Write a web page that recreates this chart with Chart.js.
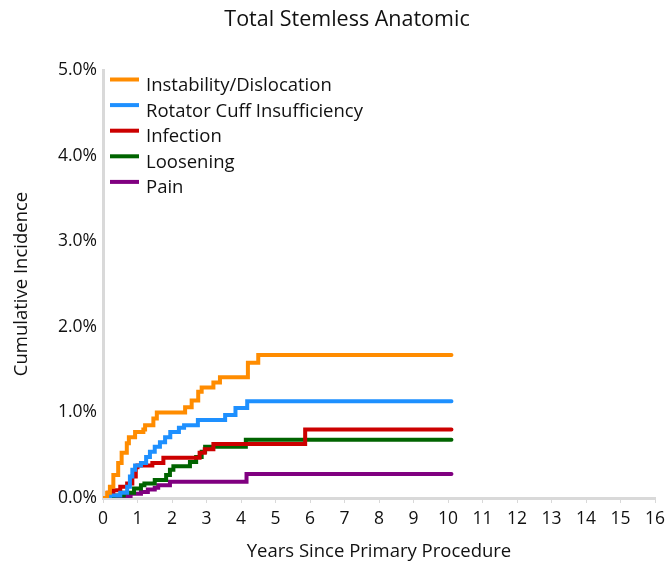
<!DOCTYPE html>
<html>
<head>
<meta charset="utf-8">
<script src="https://cdn.jsdelivr.net/npm/chart.js@4.4.1/dist/chart.umd.min.js"></script>
<style>
  html, body { margin: 0; padding: 0; background: #fff; }
  #wrap { width: 665px; height: 564px; }
</style>
</head>
<body>
<div id="wrap"><canvas id="cif"></canvas></div>
<script>
var seriesNames = ["Instability/Dislocation", "Rotator Cuff Insufficiency", "Infection", "Loosening", "Pain"];
var seriesColors = ["#ff8c00", "#1e90ff", "#cc0000", "#006400", "#800080"];
var xTicks = [0, 1, 2, 3, 4, 5, 6, 7, 8, 9, 10, 11, 12, 13, 14, 15, 16];
var yTicks = [0, 1, 2, 3, 4, 5];

// years / cumulative incidence (%) at each step
var instabYears = [0, 0.12, 0.2, 0.3, 0.44, 0.54, 0.69, 0.75, 0.93, 1.17, 1.22, 1.46, 1.56, 2.38, 2.57, 2.76, 2.86, 3.2, 3.39, 4.2, 4.5, 10.1];
var instabVals  = [0, 0.06, 0.13, 0.27, 0.41, 0.53, 0.64, 0.71, 0.77, 0.80, 0.85, 0.93, 1.0, 1.06, 1.14, 1.24, 1.29, 1.35, 1.41, 1.58, 1.67, 1.67];

var cuffYears = [0, 0.2, 0.5, 0.7, 0.78, 0.85, 0.93, 1.1, 1.25, 1.36, 1.5, 1.65, 1.8, 1.95, 2.2, 2.35, 2.75, 3.54, 3.84, 4.18, 10.1];
var cuffVals  = [0, 0.03, 0.06, 0.13, 0.25, 0.33, 0.38, 0.41, 0.48, 0.54, 0.60, 0.65, 0.71, 0.77, 0.82, 0.85, 0.91, 0.97, 1.05, 1.13, 1.13];

var infYears = [0, 0.15, 0.3, 0.5, 0.7, 0.85, 0.95, 1.0, 1.43, 1.75, 2.8, 2.95, 3.2, 5.86, 10.1];
var infVals  = [0, 0.06, 0.09, 0.13, 0.17, 0.25, 0.36, 0.38, 0.41, 0.47, 0.53, 0.57, 0.63, 0.80, 0.80];

var looseYears = [0, 0.3, 0.6, 0.9, 1.1, 1.2, 1.5, 1.83, 1.94, 2.04, 2.52, 2.7, 2.86, 2.96, 4.14, 10.1];
var looseVals  = [0, 0.03, 0.06, 0.11, 0.15, 0.17, 0.21, 0.27, 0.33, 0.37, 0.42, 0.48, 0.54, 0.60, 0.68, 0.68];

var painYears = [0, 0.35, 0.8, 1.1, 1.3, 1.5, 1.6, 1.94, 4.16, 10.1];
var painVals  = [0, 0.02, 0.05, 0.07, 0.10, 0.12, 0.15, 0.19, 0.28, 0.28];

var allYears = [instabYears, cuffYears, infYears, looseYears, painYears];
var allVals = [instabVals, cuffVals, infVals, looseVals, painVals];

function pts(xs, ys) {
  return xs.map(function (x, i) { return { x: x, y: ys[i] }; });
}

var datasets = seriesNames.map(function (name, i) {
  return {
    label: name,
    data: pts(allYears[i], allVals[i]),
    borderColor: seriesColors[i],
    backgroundColor: seriesColors[i],
    borderWidth: 4,
    borderCapStyle: 'round',
    stepped: true,
    pointRadius: 0,
    fill: false
  };
});

var fontFam = "'Open Sans', sans-serif";

// title sits a bit right of the canvas centre in the original
var titlePlugin = {
  id: 'titleText',
  afterDraw: function (chart) {
    var ctx = chart.ctx;
    ctx.save();
    ctx.fillStyle = '#111';
    ctx.font = "21.5px " + fontFam;
    ctx.textAlign = 'center';
    ctx.textBaseline = 'middle';
    ctx.fillText("Total Stemless Anatomic", 347, 20);
    ctx.restore();
  }
};

// legend drawn inside the plot, top-left
var legendPlugin = {
  id: 'insideLegend',
  afterDraw: function (chart) {
    var ctx = chart.ctx;
    var left = chart.chartArea.left + 7;
    ctx.save();
    ctx.font = "18.5px " + fontFam;
    ctx.textBaseline = 'alphabetic';
    ctx.textAlign = 'left';
    chart.data.datasets.forEach(function (ds, i) {
      var y = 79.5 + i * 25.6;
      ctx.fillStyle = ds.borderColor;
      ctx.fillRect(left, y - 2, 29, 4);
      ctx.fillStyle = '#111';
      ctx.fillText(ds.label, left + 36, y + 11.5);
    });
    ctx.restore();
  }
};

new Chart("cif", {
  type: "line",
  data: { datasets: datasets },
  plugins: [titlePlugin, legendPlugin],
  options: {
    responsive: true,
    maintainAspectRatio: false,
    animation: false,
    layout: { padding: { top: 70, right: 10, left: 0, bottom: 0 } },
    plugins: {
      legend: { display: false },
      tooltip: { enabled: false }
    },
    scales: {
      x: {
        type: 'linear',
        min: 0,
        max: 16,
        afterFit: function (s) { s.height = 66; s.paddingLeft = 0; s.paddingRight = 0; },
        afterBuildTicks: function (s) { s.ticks = xTicks.map(function (v) { return { value: v }; }); },
        grid: { display: true, drawOnChartArea: false, drawTicks: true, tickLength: 5, color: '#d9d9d9' },
        border: { color: '#d9d9d9', width: 3 },
        ticks: { color: '#111', font: { family: fontFam, size: 17.5 }, padding: 6 },
        title: { display: true, text: "Years Since Primary Procedure", color: '#111', font: { family: fontFam, size: 18.5 }, padding: { top: 0, bottom: 1 } }
      },
      y: {
        min: 0,
        max: 5,
        afterFit: function (s) { s.width = 103; s.paddingTop = 0; s.paddingBottom = 0; },
        afterBuildTicks: function (s) { s.ticks = yTicks.map(function (v) { return { value: v }; }); },
        grid: { display: false, drawTicks: false },
        border: { color: '#d9d9d9', width: 3 },
        ticks: {
          color: '#111',
          font: { family: fontFam, size: 17.5 },
          padding: 6,
          callback: function (v) { return v.toFixed(1) + "%"; }
        },
        title: { display: true, text: "Cumulative Incidence", color: '#111', font: { family: fontFam, size: 18.5 }, padding: { top: 11, bottom: 0 } }
      }
    }
  }
});
</script>
</body>
</html>
